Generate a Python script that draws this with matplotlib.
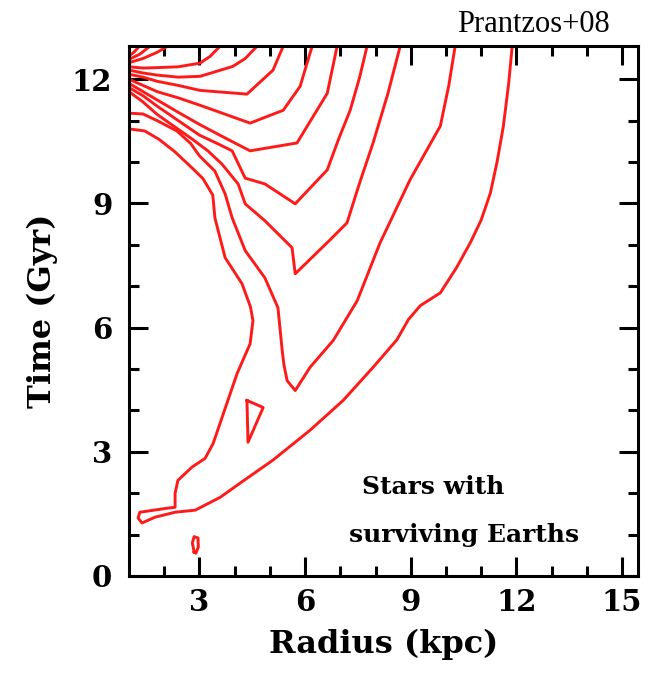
# contours of stars with surviving Earths (Prantzos+08 style)
import matplotlib
matplotlib.use("Agg")
import matplotlib.pyplot as plt

# --- contour lines: radius (kpc), time (Gyr) ---
# outermost contour: enters at top right, loops at low left, exits at left edge
a_r = [11.88, 11.78, 11.63, 11.45, 11.26, 11.00, 10.69, 10.30, 9.84, 9.27, 8.93, 8.61,
       7.93, 7.08, 6.14, 5.09, 4.15, 3.59, 2.88, 2.31, 1.74, 1.37, 1.26, 1.31, 2.11,
       2.31, 2.31, 2.39, 2.79, 3.16, 3.39, 3.78, 4.07, 4.44, 4.52, 4.45, 4.21, 3.73,
       3.44, 3.38, 3.10, 2.80, 2.30, 1.85, 1.45, 1.00]
a_t = [12.8, 11.9, 10.87, 10.0, 9.25, 8.60, 8.05, 7.45, 6.84, 6.53, 6.19, 5.71,
       5.04, 4.24, 3.52, 2.80, 2.24, 1.90, 1.59, 1.54, 1.42, 1.28, 1.40, 1.54, 1.64,
       1.66, 2.00, 2.31, 2.63, 2.84, 3.20, 4.17, 4.89, 5.61, 6.17, 6.50, 7.06, 7.69,
       8.65, 9.20, 9.60, 9.85, 10.25, 10.55, 10.75, 10.80]
# deep V (bottom near 4.5 Gyr)
b_r = [1.00, 1.40, 1.80, 2.36, 2.75, 3.00, 3.44, 3.73, 3.93, 4.30, 4.86, 5.23, 5.35,
       5.40, 5.49, 5.72, 6.14, 6.80, 7.48, 8.13, 8.98, 9.84, 10.08, 10.26]
b_t = [11.18, 11.16, 11.00, 10.75, 10.45, 10.15, 9.78, 9.23, 8.65, 7.86, 7.20, 6.48,
       5.45, 5.10, 4.72, 4.48, 5.04, 5.69, 6.65, 8.05, 9.57, 10.87, 11.85, 12.8]
c_r = [1.00, 1.40, 1.80, 2.30, 2.80, 3.24, 3.64, 4.10, 4.30, 4.86, 5.63, 5.72, 6.71,
       7.19, 7.55, 7.93, 8.35, 8.70]
c_t = [11.70, 11.45, 11.15, 10.85, 10.55, 10.27, 9.95, 9.47, 8.99, 8.58, 7.93, 7.30,
       8.12, 8.53, 9.50, 10.46, 11.65, 12.8]
d_r = [1.00, 1.40, 1.80, 2.40, 3.00, 3.50, 3.93, 4.30, 4.86, 5.72, 6.63, 6.95, 7.28,
       7.55, 7.76]
d_t = [11.80, 11.60, 11.35, 11.00, 10.65, 10.45, 10.27, 9.61, 9.47, 8.99, 9.81, 10.55,
       11.25, 12.05, 12.8]
e_r = [1.00, 1.40, 1.80, 2.40, 3.02, 3.80, 4.44, 5.77, 6.63, 6.91]
e_t = [11.90, 11.70, 11.50, 11.20, 10.90, 10.55, 10.27, 10.46, 11.66, 12.8]
f_r = [1.00, 1.40, 1.80, 2.40, 3.02, 4.44, 5.38, 5.86, 6.20]
f_t = [12.00, 11.85, 11.70, 11.55, 11.37, 10.94, 11.25, 11.83, 12.8]
g_r = [1.00, 1.40, 1.80, 2.40, 3.02, 4.35, 5.09, 5.38]
g_t = [12.12, 12.05, 11.95, 11.85, 11.73, 11.64, 12.22, 12.8]
h_r = [1.00, 1.40, 1.80, 2.40, 3.02, 3.95, 4.30, 4.64]
h_t = [12.22, 12.15, 12.10, 12.05, 12.07, 12.31, 12.50, 12.8]
i_r = [1.00, 1.40, 1.80, 2.40, 3.02, 3.30, 3.59]
i_t = [12.30, 12.27, 12.28, 12.30, 12.39, 12.55, 12.8]
j_r = [1.00, 1.40, 1.80, 2.10]
j_t = [12.40, 12.50, 12.65, 12.8]
k_r = [1.00, 1.30, 1.60]
k_t = [12.48, 12.60, 12.8]
l_r = [1.00, 1.15, 1.30]
l_t = [12.56, 12.66, 12.8]
# small closed islands
tri_r = [4.35, 4.81, 4.38, 4.35]
tri_t = [4.24, 4.07, 3.23, 4.24]
isl_r = [2.85, 2.80, 2.85, 2.96, 2.97, 2.90, 2.85]
isl_t = [0.58, 0.80, 0.95, 0.92, 0.70, 0.55, 0.58]

curves = [(a_r, a_t), (b_r, b_t), (c_r, c_t), (d_r, d_t), (e_r, e_t), (f_r, f_t),
          (g_r, g_t), (h_r, h_t), (i_r, i_t), (j_r, j_t), (k_r, k_t), (l_r, l_t),
          (tri_r, tri_t), (isl_r, isl_t)]

x_ticks = [3, 6, 9, 12, 15]
y_ticks = [0, 3, 6, 9, 12]

fig = plt.figure(figsize=(6.48, 6.75), dpi=100)
ax = fig.add_axes([0.199, 0.1467, 0.7855, 0.785])

for r, t in curves:
    ax.plot(r, t, color="#ff1a1a", lw=2.1, solid_joinstyle="round")

ax.set_xlim(1.0, 15.45)
ax.set_ylim(0, 12.8)
ax.set_xticks(x_ticks)
ax.set_yticks(y_ticks)
ax.set_xticks(range(2, 16), minor=True)
ax.set_yticks(range(0, 13), minor=True)

lab = dict(family="DejaVu Serif", weight="bold", size=21)
ax.set_xticklabels([str(v) for v in x_ticks], fontdict=lab)
ax.set_yticklabels([str(v) for v in y_ticks], fontdict=lab)
ax.tick_params(which="both", direction="in", top=True, right=True, width=2.2)
ax.tick_params(which="major", length=14, axis="x", pad=9)
ax.tick_params(which="major", length=14, axis="y", pad=12)
ax.tick_params(which="minor", length=7)
for s in ax.spines.values():
    s.set_linewidth(2.2)

big = dict(family="DejaVu Serif", weight="bold", size=23)
ax.set_xlabel("Radius (kpc)", fontdict=big, labelpad=8)
ax.set_ylabel("Time (Gyr)", fontdict=big, labelpad=10)

ax.text(7.62, 2.14, "Stars with", family="DejaVu Serif", weight="bold", size=18,
        ha="left", va="center")
ax.text(7.25, 0.99, "surviving Earths", family="DejaVu Serif", weight="bold", size=18,
        ha="left", va="center")

fig.text(533 / 648, 1 - 24 / 675, "Prantzos+08", family="Liberation Serif", size=22,
         ha="center", va="center")

fig.savefig("out.png", dpi=100)
